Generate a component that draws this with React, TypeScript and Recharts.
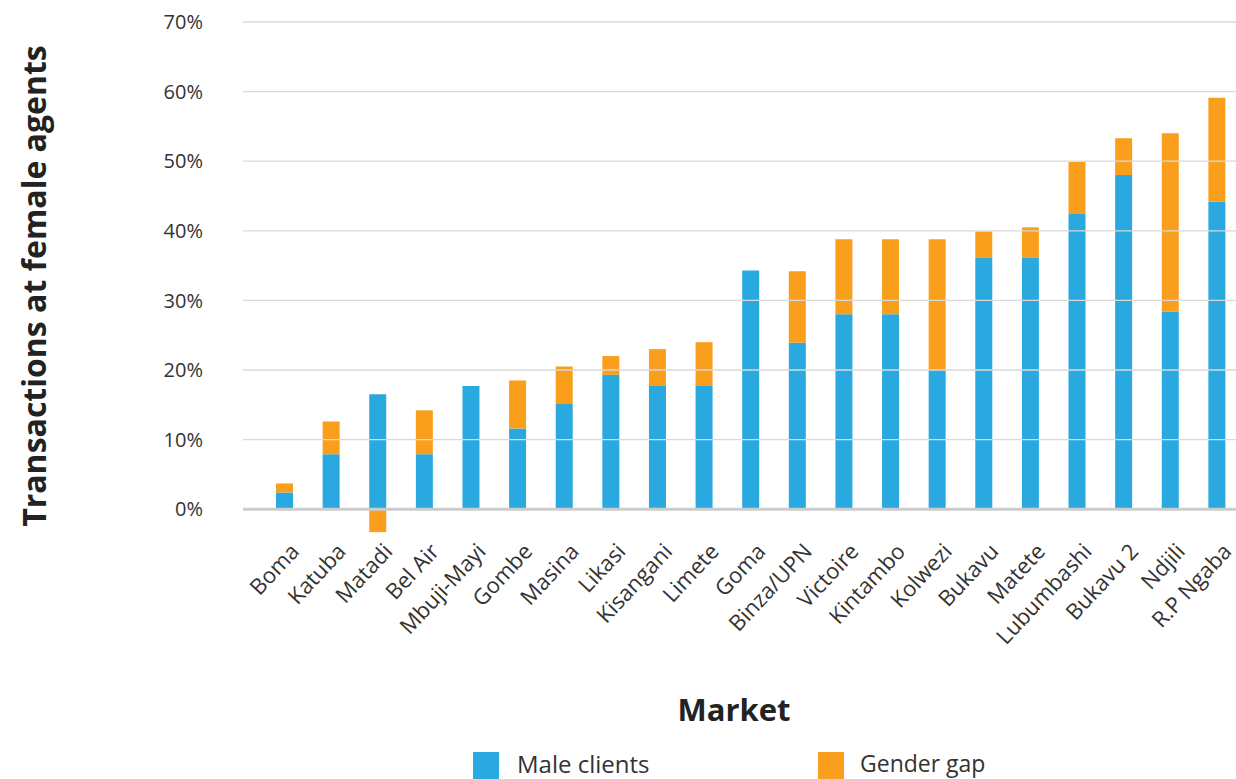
import React from "react";
import { BarChart, Bar, XAxis, YAxis, ReferenceLine } from "recharts";

const markets = [
  "Boma", "Katuba", "Matadi", "Bel Air", "Mbuji-Mayi", "Gombe", "Masina", "Likasi",
  "Kisangani", "Limete", "Goma", "Binza/UPN", "Victoire", "Kintambo", "Kolwezi",
  "Bukavu", "Matete", "Lubumbashi", "Bukavu 2", "Ndjili", "R.P Ngaba",
];
const maleClients = [2.4, 7.9, 16.5, 7.9, 17.7, 11.6, 15.1, 19.3, 17.7, 17.7, 34.3, 23.9, 28.0, 28.0, 20.0, 36.1, 36.1, 42.4, 48.0, 28.4, 44.2];
const genderGap = [1.3, 4.7, -3.3, 6.3, 0, 6.9, 5.4, 2.7, 5.3, 6.3, 0, 10.3, 10.8, 10.8, 18.8, 3.8, 4.4, 7.5, 5.3, 25.6, 14.9];
const yTicks = [0, 10, 20, 30, 40, 50, 60, 70];

const data = markets.map((m, i) => ({ market: m, male: maleClients[i], gap: genderGap[i] }));

const BLUE = "#29a9e0";
const ORANGE = "#f99f1c";
const FONT = "'Open Sans', 'DejaVu Sans', sans-serif";

const XTick = (props: any) => {
  const { x, y, payload } = props;
  const ax = x + 5;
  const ay = y - 10;
  return (
    <text
      x={ax}
      y={ay}
      transform={`rotate(-47, ${ax}, ${ay})`}
      textAnchor="end"
      dy="0.7em"
      fill="#333"
      fontSize={22}
      fontFamily={FONT}
    >
      {payload.value}
    </text>
  );
};

export default function App() {
  return (
    <div style={{ position: "absolute", left: 0, top: 0, width: 1236, height: 779, overflow: "hidden", background: "#fff" }}>
      <BarChart
        width={1240}
        height={779}
        data={data}
        stackOffset="sign"
        margin={{ top: 22, right: 0, bottom: 105, left: 0 }}
      >
        <XAxis
          dataKey="market"
          axisLine={false}
          tickLine={false}
          interval={0}
          height={130}
          padding={{ left: 18, right: 0 }}
          tick={<XTick />}
        />
        <YAxis
          width={243}
          domain={[-5, 70]}
          ticks={yTicks}
          axisLine={false}
          tickLine={false}
          tickFormatter={(v: number) => `${v}%`}
          tick={{ fill: "#333", fontSize: 20, fontFamily: FONT, dx: -32 }}
        />
        {yTicks.filter((t) => t !== 0).map((t) => (
          <ReferenceLine key={t} y={t} stroke="#d9d9d9" strokeWidth={1.3} />
        ))}
        <ReferenceLine y={0} stroke="#cccccc" strokeWidth={3} />
        <Bar dataKey="male" stackId="a" fill={BLUE} barSize={17} isAnimationActive={false} />
        <Bar dataKey="gap" stackId="a" fill={ORANGE} barSize={17} isAnimationActive={false} />
      </BarChart>
      <div
        style={{
          position: "absolute",
          left: 33,
          top: 286,
          transform: "translate(-50%, -50%) rotate(-90deg)",
          whiteSpace: "nowrap",
          fontFamily: FONT,
          fontWeight: 700,
          fontSize: 32,
          color: "#222",
        }}
      >
        Transactions at female agents
      </div>
      <div
        style={{
          position: "absolute",
          left: 734,
          top: 709,
          transform: "translate(-50%, -50%)",
          whiteSpace: "nowrap",
          fontFamily: FONT,
          fontWeight: 700,
          fontSize: 31,
          color: "#222",
        }}
      >
        Market
      </div>
      <div style={{ position: "absolute", left: 473, top: 752, width: 26, height: 27, background: BLUE }} />
      <div style={{ position: "absolute", left: 517, top: 763, transform: "translateY(-50%)", fontFamily: FONT, fontSize: 24, color: "#333", whiteSpace: "nowrap" }}>
        Male clients
      </div>
      <div style={{ position: "absolute", left: 818, top: 752, width: 26, height: 27, background: ORANGE }} />
      <div style={{ position: "absolute", left: 860, top: 763, transform: "translateY(-50%)", fontFamily: FONT, fontSize: 23, color: "#333", whiteSpace: "nowrap" }}>
        Gender gap
      </div>
    </div>
  );
}
